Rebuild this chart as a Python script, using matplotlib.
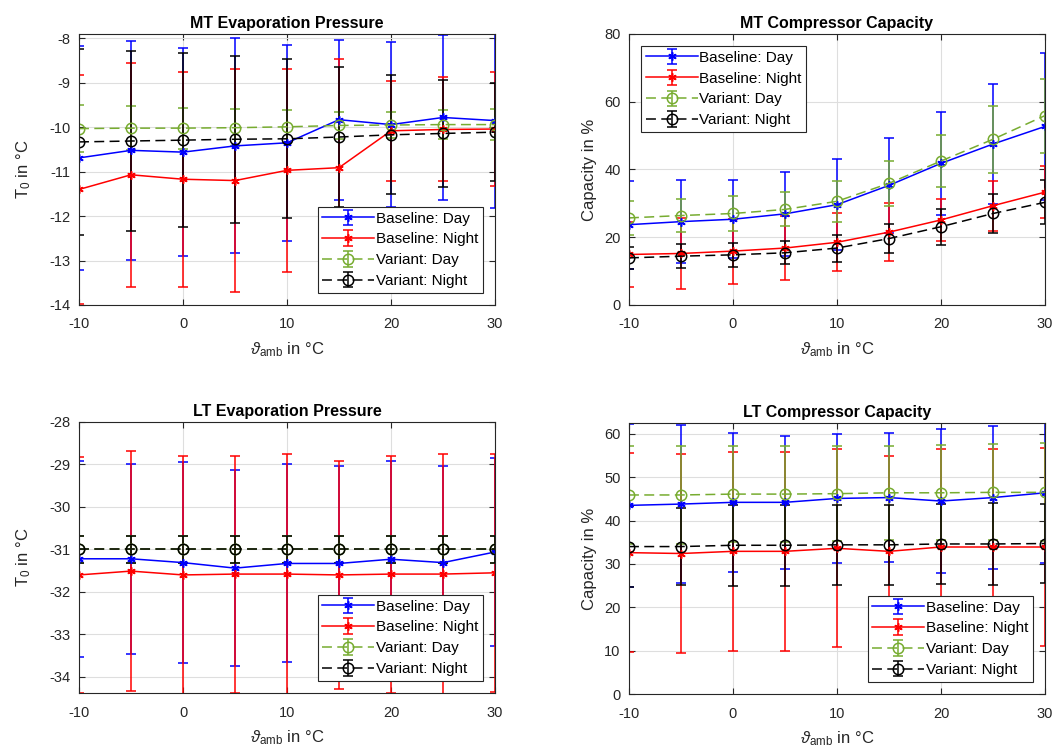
import numpy as np
import matplotlib
matplotlib.use('Agg')
import matplotlib.pyplot as plt

plt.rcParams['font.family'] = ['Liberation Sans', 'DejaVu Sans']
plt.rcParams['mathtext.fontset'] = 'custom'
plt.rcParams['mathtext.rm'] = 'Liberation Sans'
plt.rcParams['mathtext.it'] = 'Liberation Sans:italic'
plt.rcParams['axes.unicode_minus'] = False

t_amb = [-10, -5, 0, 5, 10, 15, 20, 25, 30]
labels = ['Baseline: Day', 'Baseline: Night', 'Variant: Day', 'Variant: Night']

# MT evaporation pressure (T0 in degC)
mt_t0_bd = [-10.69, -10.52, -10.56, -10.42, -10.35, -9.83, -9.94, -9.78, -9.85]
mt_t0_bd_err = [2.52, 2.47, 2.34, 2.42, 2.21, 1.80, 1.86, 1.85, 1.97]
mt_t0_bn = [-11.40, -11.07, -11.17, -11.20, -10.97, -10.91, -10.08, -10.05, -10.04]
mt_t0_bn_err = [2.57, 2.52, 2.42, 2.51, 2.29, 2.44, 1.12, 1.17, 1.28]
mt_t0_vd = [-10.03, -10.02, -10.02, -10.01, -9.99, -9.96, -9.95, -9.94, -9.94]
mt_t0_vd_err = [0.52, 0.49, 0.46, 0.41, 0.37, 0.31, 0.30, 0.32, 0.34]
mt_t0_vn = [-10.33, -10.31, -10.29, -10.27, -10.26, -10.22, -10.17, -10.14, -10.11]
mt_t0_vn_err = [2.09, 2.02, 1.95, 1.88, 1.79, 1.57, 1.34, 1.20, 1.11]

# MT compressor capacity (%)
mt_cap_bd = [23.7, 24.6, 25.3, 26.9, 29.6, 35.3, 41.8, 47.5, 52.7]
mt_cap_bd_err = [13.0, 12.2, 11.5, 12.3, 13.4, 14.1, 15.2, 17.7, 21.8]
mt_cap_bn = [14.9, 15.2, 15.9, 16.8, 18.5, 21.5, 25.1, 29.3, 33.3]
mt_cap_bn_err = [9.6, 10.5, 9.6, 9.5, 8.5, 8.5, 6.2, 7.4, 7.7]
mt_cap_vd = [25.7, 26.4, 27.0, 28.2, 30.6, 35.9, 42.5, 48.9, 55.9]
mt_cap_vd_err = [5.0, 4.9, 5.3, 5.0, 6.0, 6.7, 7.6, 9.8, 10.9]
mt_cap_vn = [13.9, 14.4, 14.8, 15.4, 16.8, 19.6, 23.1, 27.0, 30.3]
mt_cap_vn_err = [3.2, 3.5, 3.6, 3.4, 4.0, 4.4, 5.3, 5.9, 6.5]

# LT evaporation pressure (T0 in degC)
lt_t0_bd = [-31.22, -31.22, -31.31, -31.44, -31.33, -31.33, -31.23, -31.31, -31.06]
lt_t0_bd_err = [2.31, 2.24, 2.37, 2.30, 2.33, 2.29, 2.31, 2.27, 2.22]
lt_t0_bn = [-31.60, -31.51, -31.60, -31.58, -31.58, -31.60, -31.58, -31.58, -31.55]
lt_t0_bn_err = [2.78, 2.83, 2.81, 2.79, 2.82, 2.68, 2.79, 2.82, 2.80]
lt_t0_vd = [-31.0, -31.0, -31.0, -31.0, -31.0, -31.0, -31.0, -31.0, -31.0]
lt_t0_vd_err = [0.32, 0.32, 0.32, 0.32, 0.32, 0.32, 0.32, 0.32, 0.32]
lt_t0_vn = [-31.0, -31.0, -31.0, -31.0, -31.0, -31.0, -31.0, -31.0, -31.0]
lt_t0_vn_err = [0.31, 0.31, 0.31, 0.31, 0.31, 0.31, 0.31, 0.31, 0.31]

# LT compressor capacity (%)
lt_cap_bd = [43.5, 43.8, 44.2, 44.2, 45.1, 45.3, 44.5, 45.3, 46.4]
lt_cap_bd_err = [18.8, 18.3, 16.1, 15.3, 14.8, 14.9, 16.5, 16.4, 16.2]
lt_cap_bn = [32.6, 32.4, 32.9, 32.9, 33.6, 32.9, 33.9, 33.9, 33.9]
lt_cap_bn_err = [23.0, 22.9, 23.0, 23.0, 22.8, 21.9, 22.5, 22.5, 22.8]
lt_cap_vd = [45.9, 45.9, 46.1, 46.1, 46.2, 46.4, 46.4, 46.5, 46.5]
lt_cap_vd_err = [11.2, 11.2, 11.0, 11.0, 10.9, 10.9, 11.0, 11.1, 11.3]
lt_cap_vn = [34.0, 34.0, 34.3, 34.3, 34.4, 34.4, 34.6, 34.6, 34.7]
lt_cap_vn_err = [9.4, 8.8, 9.3, 9.3, 9.2, 9.3, 9.3, 9.4, 9.2]

c_blue = (0, 0, 1)
c_red = (1, 0, 0)
c_green = (0.466, 0.674, 0.188)
c_black = (0, 0, 0)
c_text = (0.15, 0.15, 0.15)

fig = plt.figure(figsize=(10.55, 7.56), dpi=100)

def draw_panel(pos, title, ylabel, series, ylim, yticks, legend_loc, ylabelpad):
    ax = fig.add_axes(pos)
    # baseline -> asterisk, variant -> open circle
    styles = [(c_blue, '-', (6, 2, 0)), (c_red, '-', (6, 2, 0)),
              (c_green, '--', 'o'), (c_black, '--', 'o')]
    for (y, e), (col, ls, mk), lab in zip(series, styles, labels):
        ms = 6 if mk != 'o' else 7.5
        eb = ax.errorbar(t_amb, y, yerr=e, color=col, ls=ls, lw=1.1, marker=mk,
                         ms=ms, mfc='none', mec=col, mew=1.1, capsize=3.5,
                         elinewidth=1.1, capthick=1.1, label=lab)
        if ls == '--':
            eb[0].set_dashes((6.5, 3.5))
    ax.set_xlim(-10, 30)
    ax.set_ylim(ylim)
    ax.set_xticks([-10, 0, 10, 20, 30])
    ax.set_yticks(yticks)
    ax.grid(True, color=(0.87, 0.87, 0.87), lw=0.8)
    ax.set_axisbelow(True)
    ax.tick_params(direction='in', top=True, right=True, labelsize=10.5,
                   colors=c_text, length=4)
    ax.tick_params(axis='x', pad=9)
    ax.tick_params(axis='y', pad=6)
    for sp in ax.spines.values():
        sp.set_color(c_text)
        sp.set_linewidth(0.8)
    ax.set_title(title, fontsize=11.5, fontweight='bold', color='black', pad=4)
    ax.set_xlabel(r'$\vartheta_{\mathrm{amb}}$ in °C', fontsize=12, color=c_text,
                  labelpad=6)
    ax.set_ylabel(ylabel, fontsize=12, color=c_text, labelpad=ylabelpad)
    leg = ax.legend(loc=legend_loc, fontsize=11, frameon=True, fancybox=False,
                    edgecolor=c_text, framealpha=1, handlelength=3.4,
                    borderpad=0.3, labelspacing=0.45, handletextpad=0.1,
                    borderaxespad=0.8)
    leg.get_frame().set_linewidth(0.8)
    return ax

draw_panel([0.0749, 0.5966, 0.3943, 0.3585], 'MT Evaporation Pressure',
           r'T$_0$ in °C',
           [(mt_t0_bd, mt_t0_bd_err), (mt_t0_bn, mt_t0_bn_err),
            (mt_t0_vd, mt_t0_vd_err), (mt_t0_vn, mt_t0_vn_err)],
           (-14, -7.9), np.arange(-14, -7.5, 1), 'lower right', 12)

draw_panel([0.5962, 0.5966, 0.3943, 0.3585], 'MT Compressor Capacity',
           'Capacity in %',
           [(mt_cap_bd, mt_cap_bd_err), (mt_cap_bn, mt_cap_bn_err),
            (mt_cap_vd, mt_cap_vd_err), (mt_cap_vn, mt_cap_vn_err)],
           (0, 80), np.arange(0, 81, 20), 'upper left', 5)

draw_panel([0.0749, 0.0833, 0.3943, 0.3585], 'LT Evaporation Pressure',
           r'T$_0$ in °C',
           [(lt_t0_bd, lt_t0_bd_err), (lt_t0_bn, lt_t0_bn_err),
            (lt_t0_vd, lt_t0_vd_err), (lt_t0_vn, lt_t0_vn_err)],
           (-34.38, -28), np.arange(-34, -27.5, 1), 'lower right', 12)

draw_panel([0.5962, 0.0820, 0.3943, 0.3585], 'LT Compressor Capacity',
           'Capacity in %',
           [(lt_cap_bd, lt_cap_bd_err), (lt_cap_bn, lt_cap_bn_err),
            (lt_cap_vd, lt_cap_vd_err), (lt_cap_vn, lt_cap_vn_err)],
           (0, 62.5), np.arange(0, 61, 10), 'lower right', 5)

plt.savefig('out.png', dpi=100)
